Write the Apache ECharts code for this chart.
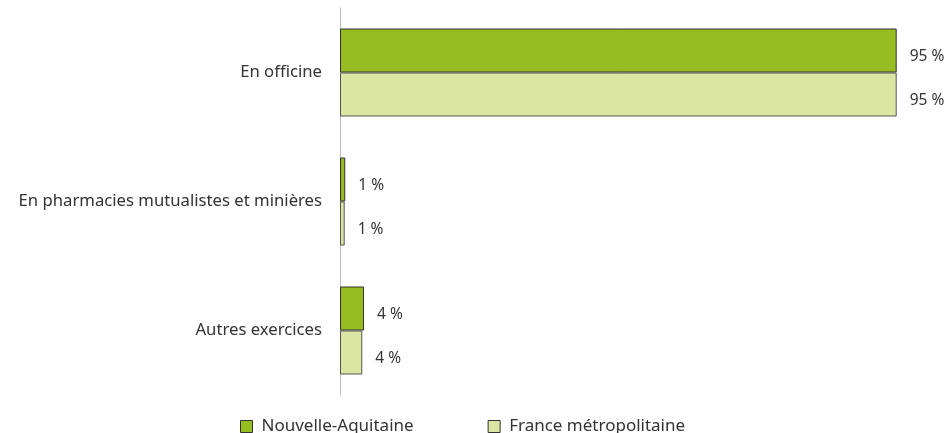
<!DOCTYPE html>
<html>
<head>
<meta charset="utf-8">
<script src="https://cdn.jsdelivr.net/npm/echarts@6/dist/echarts.min.js"></script>
<style>
  html, body { margin: 0; padding: 0; background: #fff; }
  #chart { width: 952px; height: 433px; }
</style>
</head>
<body>
<div id="chart"></div>
<script>
const categories = ['En officine', 'En pharmacies mutualistes et minières', 'Autres exercices'];
const seriesNames = ['Nouvelle-Aquitaine', 'France métropolitaine'];
const nouvelleAquitaine = [95, 0.9, 4.1];
const franceMetro = [95, 0.8, 3.8];

const chart = echarts.init(document.getElementById('chart'));

const label = {
  show: true,
  position: 'right',
  distance: 13,
  offset: [0, 6],
  color: '#333',
  fontSize: 15.5,
  fontFamily: 'Noto Sans',
  formatter: p => Math.round(p.value) + ' %'
};

chart.setOption({
  animation: false,
  textStyle: { fontFamily: 'Noto Sans' },
  grid: { left: 340, right: 26, top: 8, bottom: 38 },
  legend: {
    top: 413,
    left: 235,
    itemWidth: 12,
    itemHeight: 12,
    itemGap: 74,
    icon: 'rect',
    itemStyle: { borderColor: '#333', borderWidth: 1 },
    textStyle: { fontSize: 17, color: '#333', fontFamily: 'Noto Sans', padding: [0, 0, 0, 4] },
    data: seriesNames
  },
  xAxis: {
    type: 'value',
    min: 0,
    max: 100,
    show: false
  },
  yAxis: {
    type: 'category',
    inverse: true,
    data: categories,
    axisLine: { lineStyle: { color: '#bbb', width: 1 } },
    axisTick: { show: false },
    axisLabel: { margin: 18, color: '#333', fontSize: 16.7 }
  },
  series: [
    {
      name: seriesNames[0],
      type: 'bar',
      data: nouvelleAquitaine,
      barWidth: 44,
      barGap: '0%',
      itemStyle: { color: '#95bc20', borderColor: '#333', borderWidth: 1 },
      label: label
    },
    {
      name: seriesNames[1],
      type: 'bar',
      data: franceMetro,
      barWidth: 44,
      itemStyle: { color: '#dce6a3', borderColor: '#555', borderWidth: 1 },
      label: label
    }
  ]
});
</script>
</body>
</html>
